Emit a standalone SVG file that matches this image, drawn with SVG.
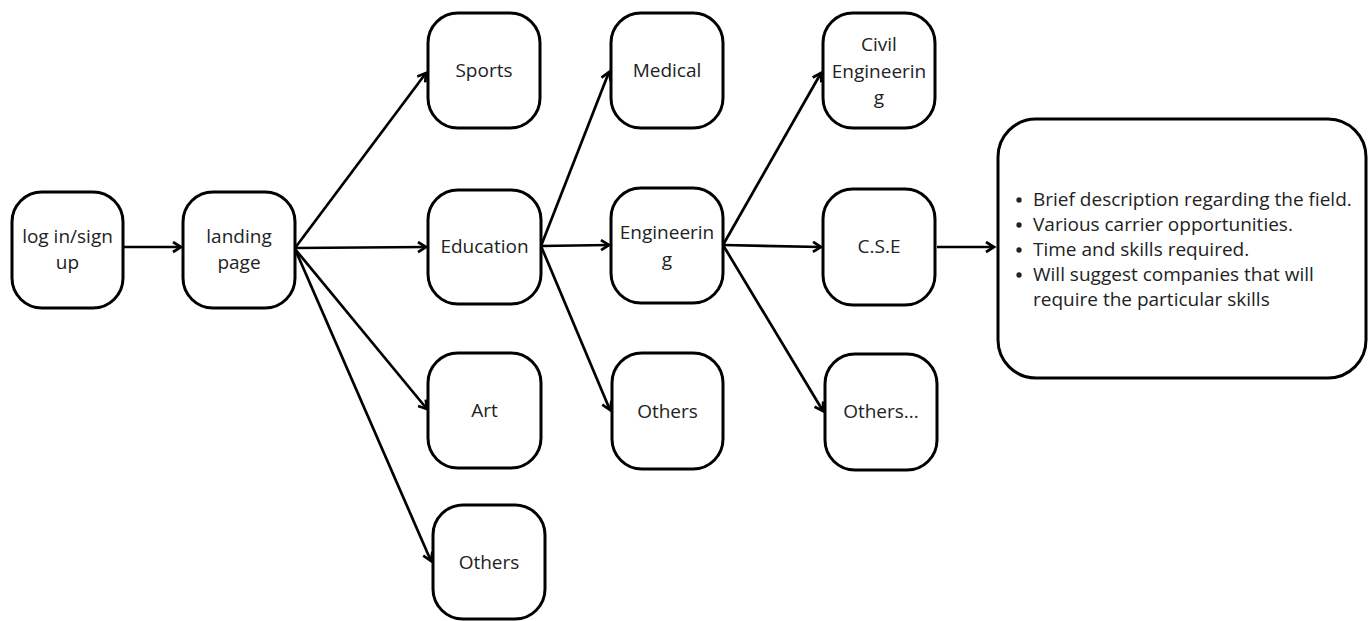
<svg xmlns="http://www.w3.org/2000/svg" width="1372" height="621" viewBox="0 0 1372 621">
<style>
.box{fill:#fff;stroke:#000;stroke-width:3}
.t{font-family:"Open Sans","Liberation Sans",sans-serif;font-size:19px;fill:#222;text-anchor:middle}
.b{font-family:"Open Sans","Liberation Sans",sans-serif;font-size:19px;fill:#222}
.c{stroke:#000;stroke-width:2.7;fill:none;marker-end:url(#ah)}
</style>
<defs>
<marker id="ah" markerUnits="userSpaceOnUse" markerWidth="14" markerHeight="14" refX="10" refY="6" orient="auto">
<path d="M2,1 L10,6 L2,11" fill="none" stroke="#000" stroke-width="2.7"/>
</marker>
</defs>
<rect width="1372" height="621" fill="#fff"/>
<g id="connectors">
<line class="c" x1="123" y1="247" x2="181" y2="247"/>
<line class="c" x1="295" y1="248" x2="426" y2="73"/>
<line class="c" x1="295" y1="248" x2="426" y2="247"/>
<line class="c" x1="295" y1="249" x2="427" y2="409"/>
<line class="c" x1="295" y1="249" x2="431" y2="561"/>
<line class="c" x1="541" y1="246" x2="609" y2="72"/>
<line class="c" x1="541" y1="246" x2="609" y2="245"/>
<line class="c" x1="541" y1="246" x2="610" y2="410"/>
<line class="c" x1="723" y1="245" x2="821" y2="73"/>
<line class="c" x1="723" y1="245" x2="821" y2="247"/>
<line class="c" x1="723" y1="245" x2="823" y2="411"/>
<line class="c" x1="937" y1="247" x2="994" y2="247"/>
</g>
<g id="login"><rect class="box" x="12" y="192" width="111" height="116" rx="30"/><text class="t" x="67.5" y="243">log in/sign</text><text class="t" x="67.5" y="269">up</text></g>
<g id="landing"><rect class="box" x="183" y="192" width="112" height="116" rx="30"/><text class="t" x="239" y="243">landing</text><text class="t" x="239" y="269">page</text></g>
<g id="sports"><rect class="box" x="428" y="13" width="112" height="115" rx="30"/><text class="t" x="484" y="77">Sports</text></g>
<g id="education"><rect class="box" x="428" y="190" width="113" height="114" rx="30"/><text class="t" x="484.5" y="253">Education</text></g>
<g id="art"><rect class="box" x="428" y="353" width="113" height="115" rx="30"/><text class="t" x="484.5" y="417">Art</text></g>
<g id="others1"><rect class="box" x="433" y="505" width="112" height="114" rx="30"/><text class="t" x="489" y="569">Others</text></g>
<g id="medical"><rect class="box" x="611" y="13" width="112" height="115" rx="30"/><text class="t" x="667" y="77">Medical</text></g>
<g id="engineering"><rect class="box" x="611" y="188" width="112" height="115" rx="30"/><text class="t" x="667" y="239">Engineerin</text><text class="t" x="667" y="266">g</text></g>
<g id="others2"><rect class="box" x="612" y="353" width="111" height="116" rx="30"/><text class="t" x="667.5" y="418">Others</text></g>
<g id="civil"><rect class="box" x="823" y="13" width="112" height="115" rx="30"/><text class="t" x="879" y="51">Civil</text><text class="t" x="879" y="78">Engineerin</text><text class="t" x="879" y="104">g</text></g>
<g id="cse"><rect class="box" x="823" y="189" width="112" height="116" rx="30"/><text class="t" x="879" y="253">C.S.E</text></g>
<g id="others3"><rect class="box" x="825" y="354" width="112" height="116" rx="30"/><text class="t" x="881" y="418">Others...</text></g>
<g id="details"><rect class="box" x="998" y="119" width="368" height="259" rx="38"/>
<g class="b">
<circle cx="1019" cy="200" r="2.7" fill="#222"/><text x="1033" y="206">Brief description regarding the field.</text>
<circle cx="1019" cy="225" r="2.7" fill="#222"/><text x="1033" y="231">Various carrier opportunities.</text>
<circle cx="1019" cy="250" r="2.7" fill="#222"/><text x="1033" y="256">Time and skills required.</text>
<circle cx="1019" cy="275" r="2.7" fill="#222"/><text x="1033" y="281">Will suggest companies that will</text>
<text x="1033" y="306">require the particular skills</text>
</g></g>
</svg>
